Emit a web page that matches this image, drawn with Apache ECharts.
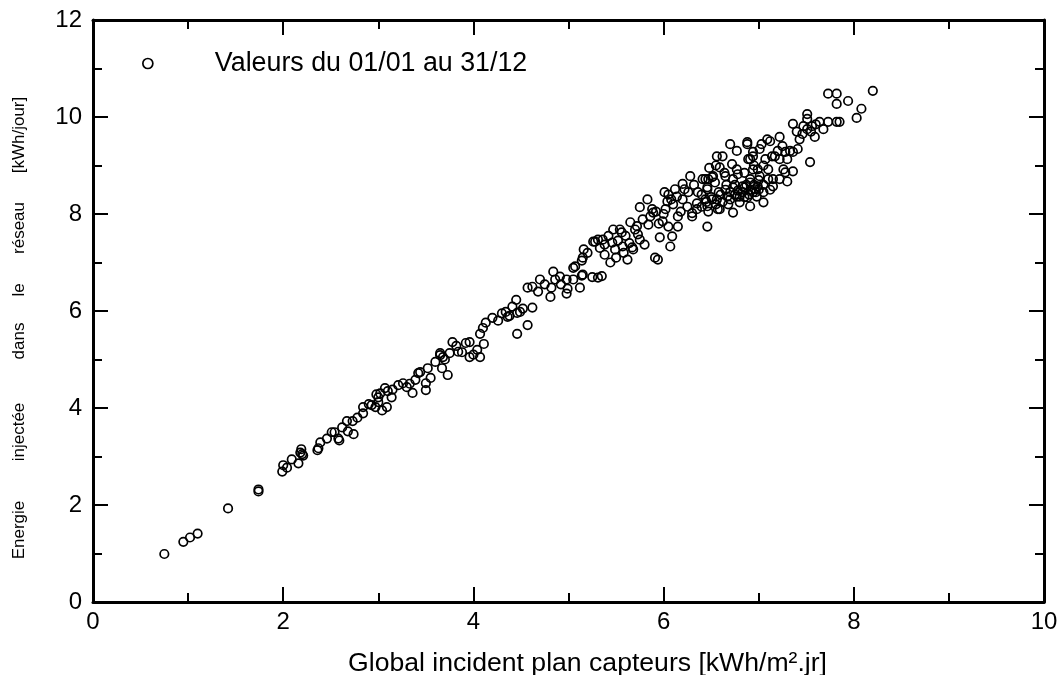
<!DOCTYPE html>
<html>
<head>
<meta charset="utf-8">
<script src="https://cdn.jsdelivr.net/npm/echarts@6/dist/echarts.min.js"></script>
<style>
  html, body { margin: 0; padding: 0; background: #fff; }
  #chart { width: 1064px; height: 675px; }
</style>
</head>
<body>
<div id="chart"></div>
<script>
// Global incident on collector plane [kWh/m².day] vs energy injected [kWh/day]
const irradiation = [
  0.75, 0.95, 1.02, 1.10, 1.42, 1.74, 1.74, 1.99, 2.00, 2.04, 2.09, 2.16, 2.18, 2.21, 2.19, 2.20,
  2.36, 2.37, 2.39, 2.46, 2.51, 2.54, 2.59, 2.58, 2.67, 2.73, 2.68, 2.74, 2.84, 2.84, 2.93, 2.97,
  3.00, 3.02, 3.04, 3.07, 3.09, 3.10, 3.14, 3.00, 2.98, 3.21, 3.26, 3.30, 3.36, 3.39, 3.42, 3.44,
  3.50, 3.50, 3.52, 3.55, 3.67, 3.73, 3.65, 3.68, 3.65, 3.75, 3.78, 3.84, 3.92, 3.96, 3.96, 4.07,
  4.04, 4.11, 4.07, 4.10, 4.13, 4.20, 4.26, 4.34, 4.36, 4.41, 4.45, 4.46, 4.49, 4.57, 4.46, 4.62,
  4.57, 4.62, 4.68, 4.70, 4.81, 4.82, 4.84, 4.86, 4.91, 4.98, 4.98, 4.99, 5.05, 5.07, 5.05, 5.12,
  5.14, 5.14, 5.16, 5.26, 5.31, 5.31, 5.15, 5.15, 5.28, 5.36, 5.38, 5.38, 5.44, 5.47, 5.46, 5.49,
  5.54, 5.56, 5.57, 5.62, 5.65, 5.67, 5.68, 5.70, 5.73, 5.75, 5.78, 5.80, 5.75, 5.83, 5.84, 5.88,
  5.89, 5.91, 5.94, 5.96, 5.99, 6.01, 6.04, 6.05, 6.07, 6.09, 6.12, 6.14, 6.15, 6.15, 6.20, 6.22,
  6.26, 6.28, 6.30, 6.35, 6.36, 6.44, 6.46, 6.46, 6.46, 6.51, 6.51, 6.54, 6.56, 6.57, 6.59, 6.62,
  6.67, 6.70, 6.72, 6.73, 6.77, 6.78, 6.80, 6.88, 6.89, 6.91, 6.94, 6.96, 6.94, 6.99,
  7.73, 7.82, 7.82, 7.94, 8.20, 8.08, 8.03, 7.51, 7.51, 7.36, 7.47, 7.56, 7.64, 7.73, 7.82, 7.85,
  7.51, 7.46, 7.43, 7.59, 7.68, 7.54, 7.41, 7.33, 7.28, 7.36, 7.30, 7.22, 7.22, 7.26, 7.36, 7.28,
  7.30, 7.12, 7.09, 7.07, 7.14, 7.17, 7.01, 7.03, 6.88, 6.94, 6.91, 6.77, 7.10, 7.10, 7.15, 6.99,
  7.01, 6.91, 6.83, 6.73, 6.65, 6.52, 6.47, 6.41, 6.46, 6.44, 6.56, 6.77, 6.83, 6.94, 7.05, 7.15,
  7.22, 6.59, 6.47, 6.73, 6.91, 7.05, 6.80, 6.88, 6.98,
  6.60, 6.65, 6.70, 6.75, 6.85, 6.90, 6.95, 7.00, 6.62, 6.70, 6.92, 7.05, 6.85, 6.66, 6.75, 6.50,
  6.55, 6.40, 6.35, 6.30, 6.45, 7.00, 7.12, 6.97, 6.87, 6.78, 6.68, 6.58, 6.40, 6.25, 6.18, 6.10,
  6.05, 6.20, 6.32, 6.48, 6.55, 6.64, 6.85, 6.95, 7.05, 7.20, 7.25, 7.40, 7.55, 7.60,
  5.20, 5.33, 5.42, 5.52, 5.60, 5.64, 5.72, 5.86, 5.92, 5.95, 6.00, 6.02, 6.08, 5.50, 5.58, 5.25,
  5.35, 4.75, 4.92, 4.30, 4.38, 4.52, 3.82, 3.88, 4.00, 3.60, 3.70, 3.33, 3.15, 2.90, 2.78, 2.62
];
const energy = [
  0.99, 1.24, 1.33, 1.41, 1.93, 2.32, 2.28, 2.69, 2.82, 2.77, 2.94, 2.86, 3.08, 3.02, 3.15, 3.05,
  3.13, 3.17, 3.29, 3.37, 3.50, 3.50, 3.33, 3.37, 3.73, 3.73, 3.52, 3.46, 4.02, 3.89, 4.06, 4.02,
  4.22, 4.30, 3.95, 4.41, 4.02, 4.35, 4.22, 4.12, 4.28, 4.47, 4.51, 4.43, 4.31, 4.58, 4.72, 4.74,
  4.51, 4.37, 4.82, 4.62, 4.82, 4.68, 5.09, 5.05, 5.13, 5.13, 5.36, 5.16, 5.34, 5.36, 5.05, 5.05,
  5.20, 5.32, 5.53, 5.65, 5.76, 5.86, 5.80, 5.98, 5.88, 6.09, 6.23, 5.96, 5.98, 5.71, 5.53, 6.07,
  6.48, 6.50, 6.40, 6.65, 6.29, 6.48, 6.81, 6.65, 6.71, 6.65, 6.36, 6.46, 6.89, 6.92, 6.65, 6.48,
  6.73, 7.04, 7.27, 7.43, 7.47, 6.69, 7.10, 6.75, 7.43, 7.47, 7.37, 7.16, 7.00, 7.68, 7.41, 7.27,
  7.68, 7.62, 7.33, 7.06, 7.83, 7.31, 7.27, 7.68, 7.58, 7.47, 7.89, 7.37, 8.14, 8.30, 7.78, 8.10,
  8.03, 7.10, 7.06, 7.52, 7.85, 8.45, 8.26, 7.74, 7.33, 7.54, 8.51, 8.36, 7.95, 7.74, 8.30, 8.51,
  8.45, 8.78, 7.95, 8.10, 8.45, 8.72, 8.55, 8.16, 7.74, 8.76, 8.30, 8.65, 9.19, 8.10, 8.96, 9.19,
  8.36, 9.44, 9.03, 8.55, 9.30, 8.82, 8.36, 9.48, 9.13, 8.72, 9.28, 8.51, 8.92, 8.57,
  10.48, 10.48, 10.27, 10.33, 10.54, 10.17, 9.98, 10.06, 9.96, 9.86, 9.81, 9.81, 9.90, 9.90, 9.90, 9.90,
  9.75, 9.65, 9.54, 9.59, 9.75, 9.07, 9.34, 9.30, 9.28, 9.28, 9.13, 9.59, 9.13, 8.92, 8.88, 8.86,
  8.67, 9.50, 9.54, 9.13, 9.19, 9.19, 9.34, 9.44, 9.44, 9.19, 9.13, 8.92, 8.92, 8.72, 8.72, 8.92,
  8.78, 8.65, 8.57, 8.72, 8.78, 8.78, 8.72, 8.72, 8.51, 8.30, 8.30, 8.36, 8.45, 8.45, 8.45, 8.57,
  8.72, 8.10, 8.05, 8.03, 8.16, 8.24, 8.24, 8.34, 8.36,
  8.40, 8.50, 8.45, 8.60, 8.55, 8.40, 8.60, 8.50, 8.25, 8.30, 8.50, 8.60, 8.35, 8.60, 8.40, 8.35,
  8.20, 8.15, 8.22, 8.02, 8.25, 8.70, 8.50, 8.45, 8.60, 8.48, 8.20, 8.45, 8.40, 8.15, 8.05, 8.20,
  8.40, 8.62, 8.60, 8.95, 9.00, 8.85, 8.85, 9.00, 9.00, 9.30, 9.40, 9.70, 9.70, 9.85,
  7.20, 7.30, 7.55, 7.45, 7.55, 7.40, 7.75, 7.95, 8.05, 7.80, 8.00, 8.10, 8.30, 7.10, 7.20, 6.70,
  6.72, 6.55, 6.55, 5.95, 5.90, 6.05, 5.28, 5.15, 5.10, 4.95, 5.00, 4.50, 4.38, 4.08, 3.80, 3.60
];
const xTicks = [0, 2, 4, 6, 8, 10];
const yTicks = [0, 2, 4, 6, 8, 10, 12];
const seriesName = 'Valeurs du 01/01 au 31/12';
const yTitleWords = ['Energie', 'injectée', 'dans', 'le', 'réseau', '[kWh/jour]'];
const yTitlePos = [530, 432, 341, 290, 228, 135];

const points = irradiation.map((x, i) => [x, energy[i]]);

const font = 'Liberation Sans, Arial, sans-serif';
const frameLine = { show: true, onZero: false, lineStyle: { color: '#000', width: 3 } };

function axisBase(min, max, showLabel) {
  return {
    type: 'value',
    min: min,
    max: max,
    interval: 2,
    axisLine: frameLine,
    axisTick: { show: true, inside: true, length: 15, lineStyle: { color: '#000', width: 2 } },
    minorTick: { show: true, splitNumber: 2, length: 9, lineStyle: { color: '#000', width: 2 } },
    splitLine: { show: false },
    axisLabel: { show: showLabel, color: '#000', fontFamily: font, fontSize: 24 }
  };
}

var chartDom = document.getElementById('chart');
var myChart = echarts.init(chartDom);

var xBottom = axisBase(xTicks[0], xTicks[xTicks.length - 1], true);
xBottom.position = 'bottom';
xBottom.axisLabel.margin = 8;
xBottom.name = 'Global incident plan capteurs [kWh/m².jr]';
xBottom.nameLocation = 'middle';
xBottom.nameGap = 48;
xBottom.nameTextStyle = { color: '#000', fontFamily: font, fontSize: 26.6, padding: [0, 0, 0, 38] };

var xTop = axisBase(xTicks[0], xTicks[xTicks.length - 1], false);
xTop.position = 'top';

var yLeft = axisBase(yTicks[0], yTicks[yTicks.length - 1], true);
yLeft.position = 'left';
yLeft.axisLabel.margin = 11;

var yRight = axisBase(yTicks[0], yTicks[yTicks.length - 1], false);
yRight.position = 'right';

var option = {
  backgroundColor: '#fff',
  animation: false,
  grid: { left: 93, right: 20, top: 20, bottom: 73, outerBoundsMode: 'none', containLabel: false },
  legend: {
    data: [seriesName],
    left: 137,
    top: 45,
    itemWidth: 10,
    itemHeight: 10,
    textStyle: { color: '#000', fontFamily: font, fontSize: 26.8, padding: [0, 0, 0, 57] },
    itemStyle: { color: 'rgba(0,0,0,0)', borderColor: '#000', borderWidth: 1.7 }
  },
  xAxis: [xBottom, xTop],
  yAxis: [yLeft, yRight],
  graphic: yTitleWords.map((w, i) => ({
    type: 'text',
    x: 19,
    y: yTitlePos[i],
    rotation: Math.PI / 2,
    style: {
      text: w,
      fill: '#000',
      font: '17px ' + font,
      textAlign: 'center',
      textVerticalAlign: 'middle'
    }
  })),
  series: [
    {
      name: seriesName,
      type: 'scatter',
      xAxisIndex: 0,
      yAxisIndex: 0,
      symbol: 'circle',
      symbolSize: 8.5,
      itemStyle: { color: 'rgba(0,0,0,0)', borderColor: '#000', borderWidth: 1.7, opacity: 1 },
      data: points
    }
  ]
};

option && myChart.setOption(option);
</script>
</body>
</html>
